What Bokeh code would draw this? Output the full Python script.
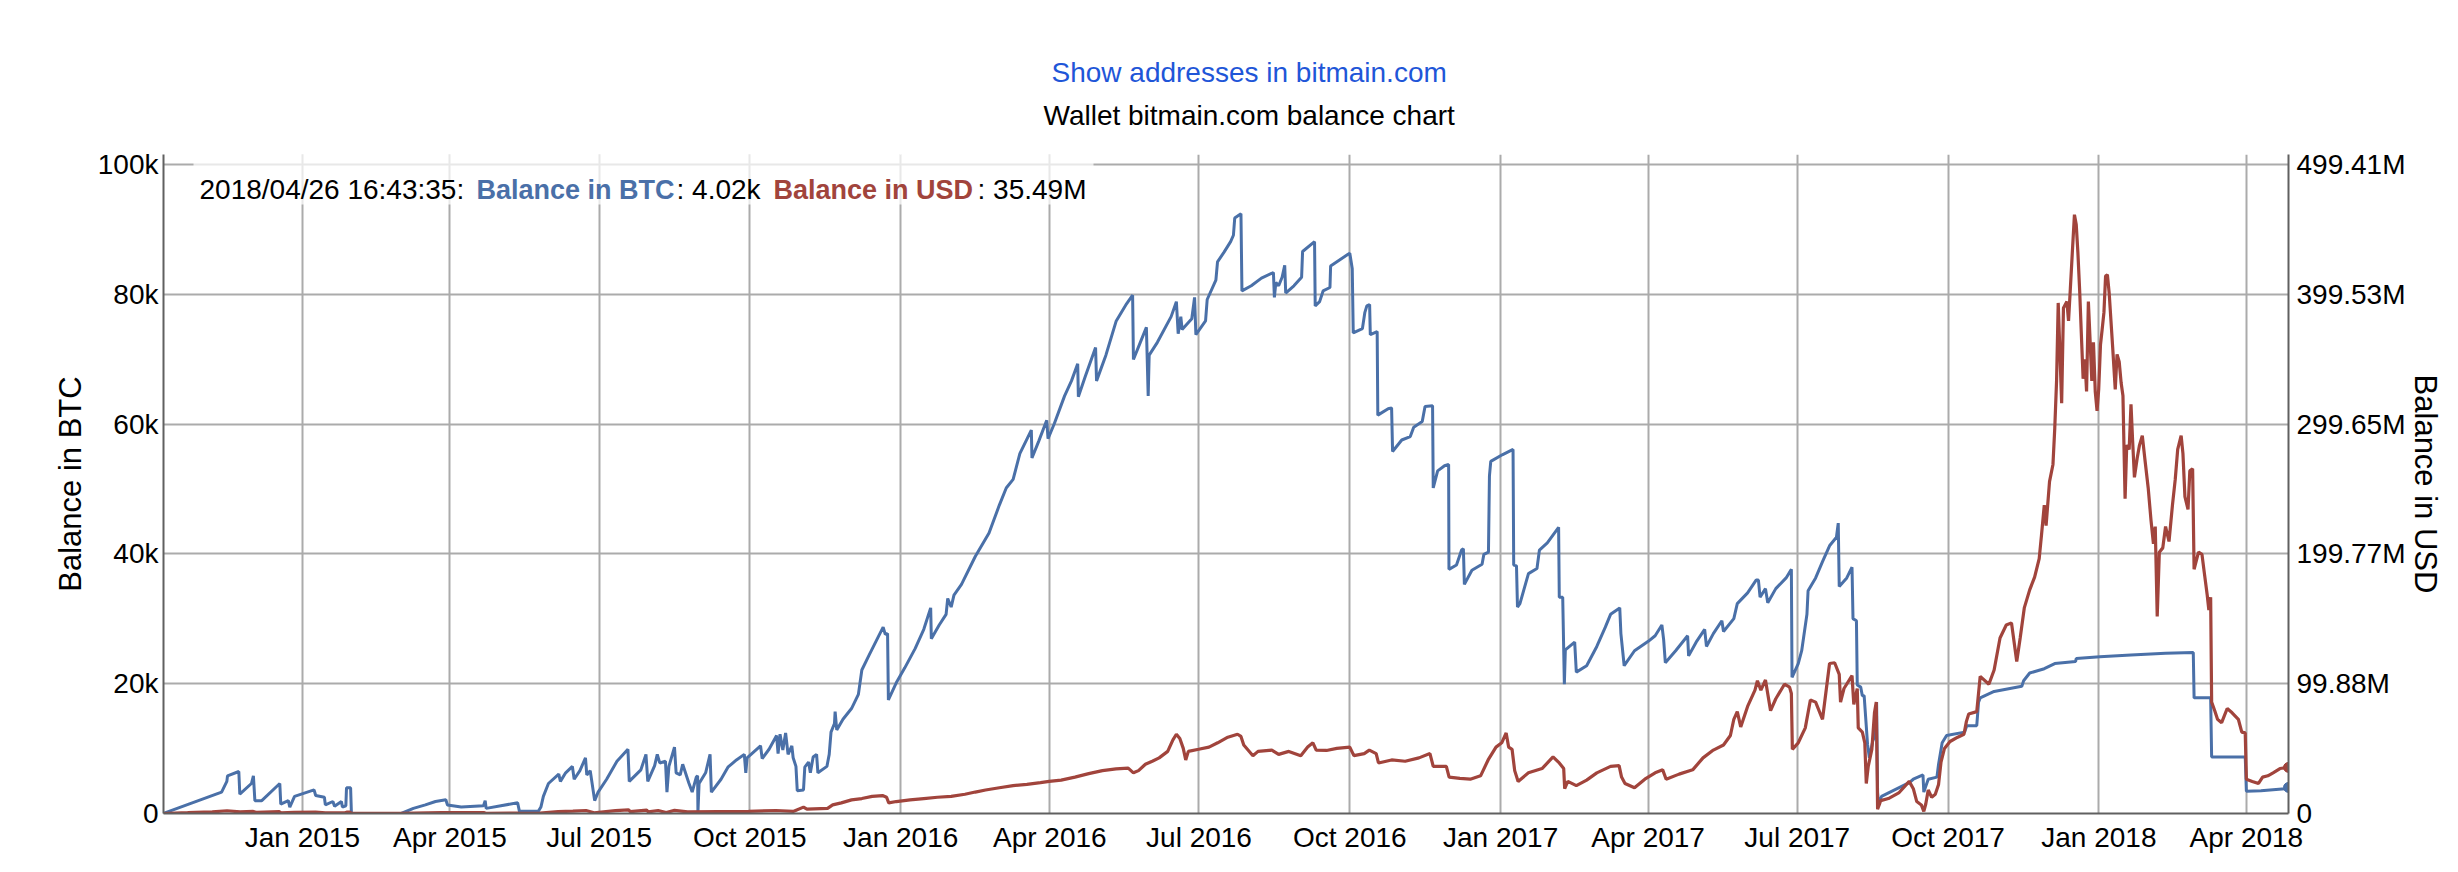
import datetime as dt
import pandas as pd
from bokeh.plotting import figure
from bokeh.models import (Range1d, LinearAxis, FixedTicker, MonthsTicker, Title,
                          DatetimeTickFormatter, Label, BoxAnnotation, ColumnDataSource)
from bokeh.embed import file_html
from bokeh.resources import INLINE

# ---------------- data ----------------
START = pd.Timestamp("2014-10-08")          # day 0 of the day-offset arrays

btc_day = [
    0, 35.7, 38.9, 39.3, 46.2, 46.8, 53.9, 55.1, 56.0, 60.2, 71.2, 71.8, 76.4, 77.3, 80.2,
    92.1, 93.1, 98.4, 99.0, 103.6, 104.6, 108.8, 109.4, 111.5, 111.9, 114.4, 114.9, 145.3,
    152.7, 160.0, 166.2, 172.5, 173.5, 181.9, 195.5, 196.5, 197.1, 216.3, 217.4, 228.9,
    230.5, 232.0, 235.1, 241.4, 242.4, 245.6, 249.7, 250.8, 254.3, 257.7, 258.5, 260.6,
    263.3, 265.4, 270.6, 276.9, 283.6, 284.4, 291.5, 294.6, 295.7, 299.9, 301.5, 303.0,
    306.5, 307.4, 308.6, 312.0, 313.0, 315.5, 317.0, 320.7, 322.8,
    325.3, 326.1, 326.3, 327.0, 331.0, 333.7, 334.5, 340.4, 344.6, 349.8, 354.6, 355.5,
    356.3, 364.5, 365.5, 369.7, 374.3, 375.2, 376.4, 378.1, 379.8, 381.3, 383.6, 384.4,
    386.1, 386.9, 390.7, 391.5, 393.8, 394.9, 396.6, 398.7, 399.5, 405.0, 406.4, 407.5,
    409.6, 410.0, 411.0, 414.8, 420.0, 424.2, 426.3, 430.5, 434.7, 439.3, 440.6, 442.0,
    442.5, 447.3, 452.5, 458.8, 464.1, 468.3, 468.7, 473.5, 477.7, 478.7, 480.8, 482.5,
    487.1, 495.5, 503.9, 510.2, 514.4, 518.6, 522.7, 529.7, 530.1, 534.3, 539.1, 539.9,
    543.7, 550.0, 554.2, 558.0, 558.4, 562.6, 568.9, 569.5, 575.2, 581.5, 587.8, 591.5,
    592.0, 596.2, 599.9, 601.0, 601.6, 606.6, 615.0, 618.2, 619.3, 620.9, 621.7, 627.6,
    629.3, 630.1, 636.0, 637.0, 642.3, 643.3,
    647.2, 651.3, 653.0, 653.8, 657.6, 658.2, 663.9, 670.1, 677.4, 678.0, 678.9, 680.6,
    682.7, 684.3, 684.9, 689.9, 694.6, 695.2, 702.5, 702.9, 705.6, 707.7, 711.9, 712.3,
    722.7, 724.0, 725.5, 726.1, 731.7, 733.2, 734.4, 736.1, 736.5, 740.7, 741.1, 747.4,
    749.5, 750.1, 755.7, 760.9, 763.0, 768.2, 769.9, 774.5, 774.9, 777.6, 781.8, 784.3,
    784.5, 789.1, 792.2, 793.3, 793.9, 798.5, 804.7, 805.8, 808.6, 809.2, 810.0, 817.3,
    823.6, 824.0, 825.7, 826.3, 827.8, 833.0, 838.2, 839.7, 844.5, 851.4, 851.8, 853.9,
    854.9, 855.5, 861.2, 862.2, 868.5, 874.7, 879.9, 883.1, 888.7, 889.4, 891.4, 897.7,
    906.1, 910.3, 914.4, 915.5, 916.5, 922.8, 930.1, 930.7, 935.3, 940.5, 941.6, 945.8,
    951.0, 952.0, 958.3, 960.4, 966.7, 971.9,
    973.3, 974.3, 977.6, 979.0, 983.9, 990.2, 993.4, 993.8, 997.6, 999.7, 1002.9, 1003.6,
    1008.2, 1012.4, 1016.7, 1020.9, 1022.0, 1022.6, 1027.2, 1030.4, 1031.0, 1033.1, 1033.6,
    1035.7, 1036.7, 1037.8, 1039.9, 1041.0, 1043.1, 1044.6, 1045.4, 1046.0, 1046.7, 1048.4,
    1065.3, 1067.8, 1073.7, 1074.2, 1076.9, 1082.2, 1083.2, 1085.4, 1088.1, 1099.1, 1100.4,
    1106.5, 1107.6, 1108.6, 1117.1, 1134.0, 1135.1, 1138.8, 1147.7, 1154.1, 1166.8, 1167.2,
    1181.6, 1200.6, 1221.7, 1238.6, 1239.1, 1249.2, 1249.8, 1270.3, 1271.0, 1279.9, 1294.6,
    1296.7,
]
btc_balance = [
    0, 3300, 4950, 5800, 6470, 2970, 4620, 5800, 1980, 1980, 4620, 1450, 1980, 990, 2640,
    3630, 2770, 2510, 1320, 1850, 1120, 1850, 990, 1190, 3960, 3960, 0, 0,
    790, 1320, 1850, 2110, 1320, 990, 1190, 1980, 790, 1650, 330, 330,
    990, 2640, 4620, 6070, 4950, 6270, 7260, 5280, 6600, 8580, 5940, 6600,
    1980, 3300, 5280, 8050, 9900, 4950, 6730, 9110, 4950, 7390, 9110, 7790,
    8050, 3300, 7260, 10230, 6270, 5940, 7590, 4750, 3300,
    5600, 5800, 130, 4620, 6270, 9110, 3300, 5280, 7130, 8250, 9110, 6270,
    8580, 10430, 8450, 9900, 12010, 9240, 12210, 9770, 12410, 9110, 10430, 8580,
    7260, 3500, 3630, 7130, 7920, 6270, 8710, 9110, 6270, 7260, 9110, 12540,
    13860, 15710, 12870, 14520, 16170, 18350, 22110, 24290, 26400, 28710, 27590, 27720,
    17490, 20130, 22440, 25410, 28380, 31680, 26930, 29040, 30690, 33130, 31810, 33660,
    35310, 39600, 43230, 47520, 50160, 51480, 55440, 59070, 54780, 57420, 60590, 57750,
    60060, 64350, 66660, 69300, 64220, 67320, 71810, 66660, 70620, 75900, 78540, 79860,
    69960, 72600, 74910, 64350, 70620, 72600, 76560, 78870, 73920, 76560, 74580, 76230,
    79530, 73790, 75900, 79200, 82170, 85010,
    86460, 88110, 89100, 91740, 92400, 80520, 81310, 82500, 83360, 79530, 81840, 81310,
    82630, 84480, 80190, 81310, 82630, 86590, 88110, 78210, 78870, 80520, 81050, 84350,
    86130, 86330, 83950, 74050, 74710, 77220, 78210, 78410, 73790, 74250, 61380, 62370,
    62500, 55770, 57550, 58080, 59530, 60390, 62700, 62830, 50160, 52800, 53590, 53790,
    37620, 38280, 40590, 40790, 35310, 37490, 38410, 39930, 40260, 52010, 54250, 55310,
    56100, 38280, 38150, 31810, 32340, 36960, 37750, 40590, 41710, 44090, 33330, 33330,
    19930, 25210, 26400, 21780, 22770, 25740, 28710, 30690, 31680, 27720, 22770, 25080,
    26530, 27390, 29040, 26730, 23230, 25080, 27390, 24290, 26400, 28380, 25740, 27720,
    29700, 28050, 30030, 32340, 33990, 35970,
    35970, 33330, 34650, 32470, 34650, 36300, 37620, 20990, 23100, 25080, 30690, 34320,
    36300, 38810, 41250, 42570, 44750, 34980, 36300, 37950, 30030, 29700, 19800,
    19470, 18150, 18150, 10560, 8580, 11220, 12010, 17160, 3300, 1320, 2640,
    4750, 5280, 5940, 3300, 5280, 5610, 7590, 10890, 12010, 12540, 13530,
    13530, 17160, 17820, 18810, 19600, 20460, 21650, 22310, 23100, 23430, 23890,
    24160, 24420, 24680, 24820, 17820, 17820, 8710, 8710, 3430, 3500, 3830,
    4020,
]

usd_day = [
    0, 15, 30, 39, 47, 55, 57, 71, 72, 80, 93, 99, 111, 112, 114, 115, 145, 170, 196, 197,
    216, 217, 230, 241, 250, 258, 263, 276, 284, 285, 295, 296, 302, 307, 312, 320,
    357.2, 373.9, 384.4, 390.7, 392.8, 405.4, 408.5, 413.8, 420.0, 426.3, 432.6, 438.9,
    441.4, 442.7, 447.3, 455.7, 464.1, 472.4, 480.8, 489.2, 495.5, 501.8, 510.2, 518.6,
    527.0, 535.3, 540.6, 547.9, 556.3, 564.7, 573.1, 581.4, 588.8, 592.0, 595.1, 599.3,
    603.5, 607.7, 612.9, 616.1, 618.2, 620.3, 622.4, 623.9, 625.5, 631.8, 638.1, 643.4,
    649.6,
    655.5, 657.6, 659.3, 664.9, 668.0, 676.4, 680.6, 686.8, 694.1, 698.3, 701.5, 703.5,
    709.8, 716.1, 724.0, 726.5, 732.8, 735.9, 740.1, 741.5, 749.5, 757.8, 766.2, 772.9,
    774.9, 782.9, 784.6, 791.2, 797.5, 803.8, 808.4, 813.2, 816.7, 819.4, 820.9, 823.0,
    824.6, 826.7, 833.0, 841.3, 848.0, 851.8, 854.5, 855.1, 857.0, 862.2, 868.5, 874.7,
    883.1, 888.3, 889.8, 891.9, 897.7, 904.0, 910.3, 914.9, 917.0, 924.9, 933.2, 939.5,
    945.8, 952.0, 956.2, 958.3, 960.4, 962.5, 966.7,
    971.2, 972.7, 974.8, 977.6, 980.7, 983.9, 989.2, 992.3, 993.4, 994.0, 997.6, 1001.9,
    1005.0, 1008.2, 1012.4, 1016.7, 1019.8, 1022.6, 1023.4, 1025.5, 1030.4, 1031.5, 1033.6,
    1034.2, 1036.7, 1038.2, 1039.1, 1040.3, 1042.5, 1044.1, 1045.2, 1046.0, 1047.9, 1052.6,
    1058.9, 1065.3, 1067.8, 1069.9, 1072.7, 1074.2, 1075.4, 1076.9, 1079.0, 1081.2, 1083.2,
    1084.7, 1086.8, 1090.2, 1094.9, 1098.7, 1100.2, 1101.6, 1106.5, 1108.6, 1113.9, 1117.1,
    1120.7, 1124.5, 1127.7, 1130.9, 1133.0, 1135.5, 1138.8, 1141.8, 1144.6, 1146.0, 1147.7,
    1148.8, 1150.9, 1153.0, 1154.1, 1155.2, 1156.2, 1157.2, 1158.3, 1159.4, 1161.5, 1162.5,
    1163.6, 1165.1, 1166.1, 1167.2, 1168.2, 1169.3, 1170.3, 1171.4, 1172.5, 1173.5, 1174.6,
    1175.7, 1176.7, 1177.7, 1178.8, 1179.9, 1180.9, 1182.0, 1183.0, 1184.1, 1185.1, 1186.2,
    1187.3, 1188.3, 1189.4, 1191.0, 1192.1, 1193.4, 1194.6, 1195.7, 1196.3, 1197.0, 1198.0,
    1199.5, 1200.6, 1201.6, 1202.7, 1204.4, 1205.8, 1207.5, 1209.0, 1211.1, 1212.8, 1214.3,
    1215.4, 1216.6, 1217.9, 1220.0, 1221.7, 1223.8, 1225.9, 1227.6, 1229.1, 1231.2, 1232.3,
    1233.5, 1235.4, 1236.5, 1238.2, 1239.1, 1241.8, 1243.9, 1245.4, 1247.1, 1248.1, 1249.2,
    1249.8, 1251.7, 1253.4, 1255.9, 1259.3, 1262.3, 1266.1, 1268.2, 1270.3, 1271.0, 1274.6,
    1278.4, 1280.9, 1284.1, 1287.3, 1291.5, 1296.7,
]
usd_balance_musd = [
    0, 0.6, 1.3, 2.1, 1.2, 1.6, 0.8, 1.4, 0.5, 0.9, 1.0, 0.5, 0.5, 1.0, 1.0, 0.1, 0.1, 0.6, 0.6, 0.2,
    0.4, 0.1, 0.3, 1.5, 1.9, 2.3, 0.6, 2.2, 2.8, 1.4, 2.6, 1.3, 2.3, 0.8, 2.4, 1.2,
    1.6, 2.3, 1.6, 4.9, 3.3, 4.0, 6.6, 8.2, 10.5, 11.5, 13.2, 13.8,
    12.5, 8.2, 9.2, 10.5, 11.5, 12.5, 13.2, 14.8, 16.5, 18.1, 19.8, 21.4,
    22.4, 23.7, 24.7, 25.7, 28.0, 30.7, 33.0, 34.3, 34.9, 31.3, 33.0, 37.9,
    40.2, 42.8, 47.8, 56.7, 61.0, 57.7, 50.1, 41.2, 47.8, 49.4, 51.1, 54.4,
    58.7,
    61.0, 59.3, 52.7, 44.5, 47.8, 48.8, 45.5, 47.8, 44.5, 51.1, 54.4, 48.8,
    48.5, 50.1, 51.1, 44.5, 46.1, 48.8, 46.1, 38.9, 41.2, 40.2, 42.8, 46.1,
    36.3, 36.3, 28.0, 27.0, 26.4, 29.0, 41.2, 51.1, 54.4, 62.0, 51.1, 49.4,
    33.0, 24.7, 31.3, 34.6, 43.5, 38.9, 34.6, 19.1, 24.7, 21.4, 25.7, 31.3,
    36.3, 36.9, 28.0, 23.1, 19.8, 26.4, 31.3, 33.6, 26.4, 30.3, 33.6, 42.8,
    48.8, 52.7, 60.0, 72.5, 78.4, 66.6, 82.4,
    94.9, 102.2, 94.9, 102.8, 79.1, 88.3, 99.5, 97.2, 92.3, 49.4, 54.4, 65.9,
    87.3, 85.7, 72.5, 115.4, 116.0, 107.1, 85.7, 96.2, 106.1, 84.0, 96.2,
    65.9, 62.6, 54.4, 23.1, 36.3, 49.4, 77.5, 85.7, 3.3, 9.9, 11.5,
    15.8, 24.7, 19.1, 9.2, 6.6, 1.6, 7.3, 18.1, 12.5, 14.8, 22.4,
    39.6, 50.1, 55.4, 58.7, 61.0, 70.9, 76.5, 78.4, 105.5, 99.5, 110.4,
    135.1, 145.0, 146.7, 117.0, 135.1, 158.2, 172.1, 181.9, 196.1, 214.2, 237.3,
    221.5, 255.4, 268.6, 296.6, 332.9, 392.9, 356.0, 315.8, 388.9, 393.9, 379.0,
    403.8, 438.4, 460.8, 453.2, 431.8, 402.1, 369.2, 334.5, 349.4, 324.7, 393.9,
    362.6, 332.9, 362.6, 324.7, 309.8, 326.3, 360.9, 372.4, 385.6, 413.6, 414.6,
    400.5, 380.7, 359.3, 326.3, 353.3, 347.7, 331.2, 321.4, 283.5, 242.3, 283.5,
    280.2, 314.8, 286.8, 258.7, 273.6, 283.5, 290.7, 273.6, 250.5, 225.8, 207.6,
    220.8, 151.6, 201.1, 204.4, 220.8, 209.3, 237.3, 257.1, 280.2, 290.7, 276.9,
    243.9, 234.0, 263.7, 265.3, 187.9, 201.1, 199.4, 184.6, 168.1, 156.6, 166.4,
    85.7, 79.1, 72.5, 69.9, 80.8, 77.5, 72.5, 62.6, 62.0, 26.4, 24.7,
    23.1, 28.0, 29.0, 31.3, 34.6, 35.49,
]

btc_ticks = [0, 20000, 40000, 60000, 80000, 100000]
btc_tick_labels = ["0", "20k", "40k", "60k", "80k", "100k"]
usd_ticks_musd = [0, 99.88, 199.77, 299.65, 399.53, 499.41]
usd_tick_labels = ["0", "99.88M", "199.77M", "299.65M", "399.53M", "499.41M"]

legend_time = "2018/04/26 16:43:35: "
legend_btc_value = ": 4.02k"
legend_usd_value = ": 35.49M"
link_text = "Show addresses in bitmain.com"
chart_title = "Wallet bitmain.com balance chart"

# ---------------- figure ----------------
BLUE = "#4a70a8"
RED = "#a1443c"
FONT = "Liberation Sans"

btc_t = START + pd.to_timedelta(btc_day, unit="D")
usd_t = START + pd.to_timedelta(usd_day, unit="D")
btc_src = ColumnDataSource(dict(t=btc_t, v=btc_balance))
usd_src = ColumnDataSource(dict(t=usd_t, v=[u * 1e6 for u in usd_balance_musd]))

x_start = dt.datetime(2014, 10, 8, 6, 0)
x_end = dt.datetime(2018, 4, 26, 16, 43, 35)
y_top = 101541
usd_top = 499.41e6 * y_top / 100000

p = figure(width=2458, height=872, x_axis_type="datetime",
           x_range=Range1d(x_start, x_end), y_range=Range1d(0, y_top),
           output_backend="svg", toolbar_location=None,
           min_border_left=163, min_border_right=170, min_border_top=154, min_border_bottom=59,
           outline_line_color=None)
p.extra_y_ranges = {"usd": Range1d(0, usd_top)}

# blank band between the frame and the titles: one white (invisible) tick, no label text
gap_tick = pd.Timestamp("2016-01-01").value / 1e6
gap = LinearAxis(ticker=FixedTicker(ticks=[gap_tick]), axis_line_color=None,
                 major_tick_line_color="white", minor_tick_line_color=None,
                 major_tick_in=0, major_tick_out=20, minor_tick_in=0, minor_tick_out=0,
                 major_label_standoff=0, major_label_text_font_size="1px",
                 major_label_overrides={gap_tick: ""})
p.add_layout(gap, "above")

# titles above the frame
p.add_layout(Title(text=chart_title, text_font=FONT, text_font_size="28px",
                   text_font_style="normal", text_color="black", align="left",
                   offset=880, standoff=8), "above")
p.add_layout(Title(text=link_text, text_font=FONT, text_font_size="28px",
                   text_font_style="normal", text_color="#1f56d8", align="left",
                   offset=888, standoff=12), "above")

# left axis
ya = p.yaxis[0]
ya.ticker = FixedTicker(ticks=btc_ticks)
ya.major_label_overrides = {t: l for t, l in zip(btc_ticks, btc_tick_labels)}
ya.axis_label = "Balance in BTC"
ya.axis_label_standoff = 7
ya.major_label_standoff = 5

# right axis
ra = LinearAxis(y_range_name="usd")
ra.ticker = FixedTicker(ticks=[u * 1e6 for u in usd_ticks_musd])
ra.major_label_overrides = {u * 1e6: l for u, l in zip(usd_ticks_musd, usd_tick_labels)}
ra.axis_label = "Balance in USD"
ra.axis_label_standoff = 0
ra.major_label_standoff = 8
p.add_layout(ra, "right")

# x axis
xa = p.below[0]
xa.ticker = MonthsTicker(months=[0, 3, 6, 9])
xa.formatter = DatetimeTickFormatter(years="%b %Y", months="%b %Y", days="%b %Y",
                                     hours="%b %Y", minutes="%b %Y")
xa.major_label_standoff = 8

for ax in (ya, ra, xa):
    ax.major_tick_in = 0
    ax.major_tick_out = 0
    ax.minor_tick_in = 0
    ax.minor_tick_out = 0
    ax.axis_line_color = "#606060"
    ax.axis_line_width = 2
    ax.major_label_text_font = FONT
    ax.major_label_text_font_size = "28px"
    ax.major_label_text_color = "black"
    ax.axis_label_text_font = FONT
    ax.axis_label_text_font_size = "31px"
    ax.axis_label_text_font_style = "normal"
    ax.axis_label_text_color = "black"

p.xgrid.grid_line_color = "#ababab"
p.xgrid.grid_line_width = 2
p.ygrid.grid_line_color = "#ababab"
p.ygrid.grid_line_width = 2

# series
p.line("t", "v", source=btc_src, line_color=BLUE, line_width=3)
p.line("t", "v", source=usd_src, line_color=RED, line_width=3.2, y_range_name="usd")
p.scatter(x=[btc_t[-1]], y=[btc_balance[-1]], size=10, color=BLUE)
p.scatter(x=[usd_t[-1]], y=[usd_balance_musd[-1] * 1e6], size=10, color=RED, y_range_name="usd")

# legend background and texts
p.add_layout(BoxAnnotation(left=30, right=930, top=659, bottom=609,
                           left_units="screen", right_units="screen",
                           top_units="screen", bottom_units="screen",
                           fill_color="white", fill_alpha=0.72, line_alpha=0))

def add_text(x, y, text, color="black", style="normal", size="28px"):
    p.add_layout(Label(x=x, y=y, x_units="screen", y_units="screen", text=text,
                       text_font=FONT, text_font_size=size, text_color=color,
                       text_font_style=style, text_align="left",
                       text_baseline="alphabetic"))

add_text(36, 624, legend_time)
add_text(313, 624, "Balance in BTC", BLUE, "bold", "27px")
add_text(513, 624, legend_btc_value)
add_text(610, 624, "Balance in USD", RED, "bold", "27px")
add_text(814, 624, legend_usd_value)

open("out.html", "w").write(file_html(p, INLINE))
